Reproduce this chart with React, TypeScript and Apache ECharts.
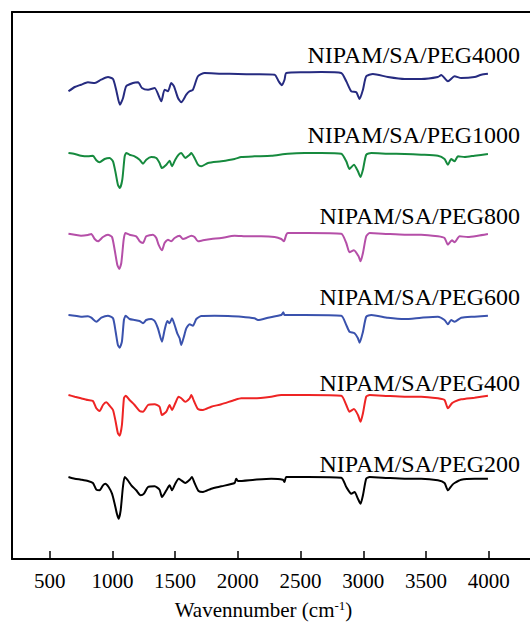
import React, { useEffect, useRef } from "react";
import * as echarts from "echarts";

// Sample names (top to bottom) and line colours
const SAMPLE_NAMES = [
  "NIPAM/SA/PEG4000",
  "NIPAM/SA/PEG1000",
  "NIPAM/SA/PEG800",
  "NIPAM/SA/PEG600",
  "NIPAM/SA/PEG400",
  "NIPAM/SA/PEG200",
];
const COLORS = ["#262b80", "#168a3e", "#b54fa8", "#3a52ad", "#ee2424", "#000000"];
// Vertical offset of each spectrum's baseline (a.u.)
const OFFSETS = [486, 406, 326, 244, 164, 82];

// [wavenumber (cm-1), relative transmittance (a.u., 0 = baseline)]
const PEG4000: [number, number][] = [
  [650, -18.3], [700, -14], [750, -11.7], [805, -9.3], [860, -10], [910, -6.7], [965, -4],
  [1005, -6], [1030, -16.7], [1060, -31.7], [1085, -25], [1110, -13.3], [1164, -10],
  [1205, -9.3], [1236, -15], [1284, -16.7], [1337, -15], [1390, -28.3], [1416, -16.7],
  [1443, -18.3], [1469, -10], [1491, -13.3], [1523, -25], [1549, -29.3], [1589, -21.7],
  [1615, -18.3], [1642, -16.7], [1682, -3.3], [1735, 0], [1868, -0.7], [2001, -1],
  [2133, -1.3], [2293, -1.7], [2325, -8.3], [2351, -12.3], [2372, -6.7], [2386, 0],
  [2532, 0.7], [2665, 1], [2824, 0], [2864, -8.3], [2904, -18.3], [2944, -19.3],
  [2970, -26], [2997, -16.7], [3023, -3.3], [3076, -1], [3196, -4], [3329, -6], [3461, -6],
  [3594, -4], [3621, -2], [3674, -8.3], [3727, -3.3], [3780, -5], [3886, -4], [3940, -1.7],
  [3993, -0.7],
];
const PEG1000: [number, number][] = [
  [650, 0], [700, -1], [750, -2.7], [805, -3.3], [845, -2.7], [872, -7.3], [898, -9.3],
  [938, -6], [978, -5], [1005, -8.3], [1026, -20], [1044, -31.7], [1060, -35], [1079, -26.7],
  [1098, -3.3], [1111, 0], [1137, -1.7], [1177, -3.3], [1217, -6.7], [1244, -10.7],
  [1270, -6.7], [1310, -4], [1350, -5], [1376, -10], [1395, -15], [1430, -11.7], [1456, -7.7],
  [1475, -13.3], [1501, -6.7], [1528, -1.7], [1549, 0], [1581, -5], [1616, -1.7], [1629, 0],
  [1655, -5], [1682, -11.7], [1708, -13.3], [1762, -10], [1868, -8.3], [1974, -6],
  [2027, -4], [2133, -3.3], [2266, -2.7], [2399, -0.7], [2532, 0], [2665, 0], [2824, -0.7],
  [2864, -8.3], [2890, -16], [2925, -11.7], [2957, -18.3], [2978, -24], [2997, -16.7],
  [3023, -1.7], [3063, 0], [3196, -0.7], [3329, -1], [3461, -1.7], [3594, -2.7], [3647, -6],
  [3674, -11.7], [3700, -6], [3727, -8.3], [3754, -3.3], [3807, -4], [3886, -2.7], [3993, -1],
];
const PEG800: [number, number][] = [
  [650, -0.7], [700, -1.7], [750, -2.7], [805, -2], [832, -1], [859, -6], [885, -8.3],
  [925, -4], [965, -1.7], [997, -4], [1018, -16.7], [1039, -31.7], [1055, -36], [1071, -30],
  [1090, -6.7], [1103, 0], [1137, -1.7], [1190, -3.3], [1217, -8.3], [1244, -10], [1270, -3.3],
  [1323, -1.7], [1350, -5], [1368, -11.7], [1395, -17.3], [1416, -10], [1443, -6.7],
  [1469, -8.3], [1496, -5], [1536, -2.7], [1562, -6], [1589, -5], [1629, -2.7], [1655, -4],
  [1682, -8.3], [1722, -7.3], [1788, -6], [1868, -5], [1974, -2.7], [2080, -3.3], [2186, -3.3],
  [2293, -4], [2346, -6], [2367, -8.3], [2386, -1.7], [2399, 0], [2558, 0], [2824, -0.7],
  [2864, -10], [2890, -19.3], [2925, -17.3], [2962, -23.3], [2978, -28.3], [2997, -20],
  [3023, -3.3], [3050, 0], [3196, -1], [3329, -1.7], [3461, -1.7], [3594, -3.3], [3647, -5],
  [3674, -11.7], [3706, -7.3], [3727, -9.3], [3767, -3.3], [3833, -4], [3913, -2.7], [3993, -1],
];
const PEG600: [number, number][] = [
  [650, 0], [700, -0.7], [750, -1.7], [805, -1.3], [832, -2.7], [872, -6.7], [912, -2.7],
  [965, -0.7], [1005, -3.3], [1026, -16.7], [1044, -30], [1058, -32.7], [1076, -26.7],
  [1092, -5], [1106, -0.7], [1137, -4], [1177, -5], [1217, -6], [1244, -8.3], [1270, -5],
  [1310, -4], [1337, -6], [1363, -13.3], [1395, -26.7], [1416, -15], [1438, -6], [1456, -8.3],
  [1475, -3.3], [1496, -10], [1517, -18.3], [1536, -23.3], [1549, -30], [1570, -21.7],
  [1589, -13.3], [1616, -9.3], [1642, -10.7], [1669, -4], [1708, -1], [1815, -0.7],
  [1921, -1], [2027, -1.7], [2133, -3.3], [2160, -5], [2240, -2.7], [2346, 0], [2362, 2.7],
  [2372, 0], [2532, 0], [2824, -0.7], [2864, -10], [2890, -16.7], [2930, -18.3], [2957, -23.3],
  [2970, -27.7], [2997, -16.7], [3023, -1.7], [3063, 0], [3196, -2.7], [3329, -4], [3461, -2.7],
  [3594, -1.7], [3647, -5], [3674, -9.3], [3700, -5], [3727, -6.7], [3780, -2.7], [3886, -1.7],
  [3993, -0.7],
];
const PEG400: [number, number][] = [
  [650, 0], [700, -1.7], [750, -3.3], [805, -5], [845, -6], [872, -13.3], [898, -16],
  [925, -10], [951, -7.3], [978, -10.7], [1005, -15], [1026, -26.7], [1044, -38.3],
  [1058, -40.7], [1076, -30], [1092, -3.3], [1106, -0.7], [1137, -5], [1177, -10], [1217, -16],
  [1244, -16.7], [1284, -10], [1337, -9.3], [1376, -11.7], [1395, -20], [1430, -16.7],
  [1456, -10], [1475, -15], [1501, -8.3], [1528, -1.7], [1549, -3.3], [1581, -6.7],
  [1616, -3.3], [1629, 0], [1650, -6], [1682, -14], [1722, -15], [1788, -11.7], [1868, -9.3],
  [1974, -5], [2027, -3.3], [2133, -3.3], [2266, -1.7], [2346, 0], [2558, 0], [2824, -0.7],
  [2864, -10], [2890, -16.7], [2925, -14], [2957, -20], [2978, -26.7], [2997, -18.3],
  [3023, -1.7], [3050, 0], [3196, -1], [3329, -1.7], [3461, -1.7], [3594, -3.3], [3647, -5],
  [3674, -13.3], [3706, -8.3], [3727, -6.7], [3780, -4.3], [3886, -2.7], [3993, -0.7],
];
const PEG200: [number, number][] = [
  [650, 0], [700, -1.7], [750, -2.7], [805, -4], [845, -6], [872, -12.7], [898, -13.3],
  [925, -8.3], [944, -6.7], [970, -10], [997, -16.7], [1018, -26.7], [1036, -36.7],
  [1050, -41.7], [1066, -33.3], [1084, -10], [1098, 0], [1119, -2.7], [1151, -8.3],
  [1190, -13.3], [1225, -18.3], [1252, -16.7], [1284, -10], [1337, -9.3], [1376, -12.7],
  [1395, -20], [1430, -13.3], [1456, -8.3], [1475, -13.3], [1501, -6.7], [1528, -1.7],
  [1549, -3.3], [1581, -6], [1616, -2.7], [1634, 0], [1655, -6], [1687, -14], [1722, -15],
  [1788, -11.7], [1868, -9.3], [1974, -6], [1987, -1.7], [2001, -4], [2133, -2.7],
  [2266, -1.7], [2359, -2.7], [2372, -5], [2386, 0], [2558, 0], [2824, -0.7], [2864, -10],
  [2904, -16.7], [2930, -15], [2957, -21.7], [2978, -26.7], [2997, -18.3], [3023, -1.7],
  [3050, 0], [3196, -1], [3329, -1.7], [3461, -1.7], [3594, -3.3], [3647, -6], [3674, -13.3],
  [3706, -8.3], [3727, -6], [3780, -2.7], [3886, -1.7], [3993, -1.7],
];

const X_TICKS = [500, 1000, 1500, 2000, 2500, 3000, 3500, 4000];
const X_TITLE = "Wavennumber (cm{sup|-1})";

const FONT = "'Liberation Serif', 'Times New Roman', serif";

export default function App() {
  const ref = useRef<HTMLDivElement>(null);

  useEffect(() => {
    if (!ref.current) return;
    const chart = echarts.init(ref.current, null, { renderer: "svg" });
    const spectra = [PEG4000, PEG1000, PEG800, PEG600, PEG400, PEG200];
    const labelY = [57, 137, 218, 299, 385, 466];

    chart.setOption({
      animation: false,
      backgroundColor: "#ffffff",
      grid: { left: 12, right: 6, top: 12, bottom: 71, show: false },
      xAxis: [
        {
          type: "value",
          min: 200,
          max: 4400,
          position: "bottom",
          axisLine: { show: true, onZero: false, lineStyle: { color: "#000", width: 2 } },
          axisTick: {
            show: true,
            inside: true,
            length: 8,
            customValues: X_TICKS,
            lineStyle: { color: "#000", width: 1.5 },
          },
          axisLabel: {
            show: true,
            customValues: X_TICKS,
            formatter: (v: number) => String(v),
            color: "#000",
            fontSize: 21,
            fontFamily: FONT,
            margin: 11,
          },
          splitLine: { show: false },
          name: X_TITLE,
          nameLocation: "middle",
          nameGap: 40,
          nameTextStyle: {
            color: "#000",
            fontSize: 21,
            fontFamily: FONT,
            padding: [0, 24, 0, 0],
            rich: {
              sup: { fontSize: 13, fontFamily: FONT, color: "#000", verticalAlign: "top" },
            },
          },
        },
        {
          type: "value",
          min: 200,
          max: 4400,
          position: "top",
          axisLine: { show: true, onZero: false, lineStyle: { color: "#000", width: 2 } },
          axisTick: { show: false },
          axisLabel: { show: false },
          splitLine: { show: false },
        },
      ],
      yAxis: {
        type: "value",
        min: 0,
        max: 547,
        axisLine: { show: true, onZero: false, lineStyle: { color: "#000", width: 2 } },
        axisTick: { show: false },
        axisLabel: { show: false },
        splitLine: { show: false },
      },
      series: spectra.map((pts, i) => ({
        name: SAMPLE_NAMES[i],
        type: "line",
        xAxisIndex: 0,
        showSymbol: false,
        smooth: 0.2,
        lineStyle: { color: COLORS[i], width: 2 },
        data: pts.map(([x, y]) => [x, y + OFFSETS[i]]),
      })),
      graphic: SAMPLE_NAMES.map((name, i) => ({
        type: "text",
        right: 25,
        top: labelY[i] - 14,
        style: {
          text: name,
          fill: "#000",
          fontSize: 24,
          fontFamily: FONT,
        },
      })),
    });

    return () => chart.dispose();
  }, []);

  return (
    <div
      ref={ref}
      style={{ position: "fixed", left: 0, top: 0, width: 545, height: 630, background: "#fff" }}
    />
  );
}
